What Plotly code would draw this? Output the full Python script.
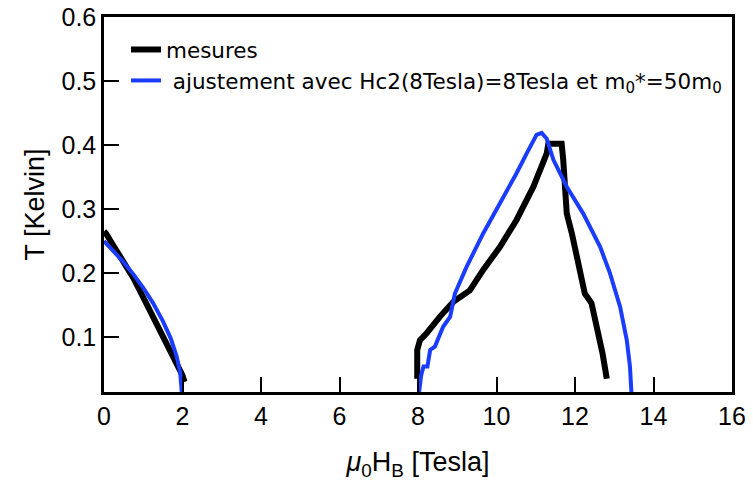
import plotly.graph_objects as go

# ---- data ----
black_left_x = [0, 0.05, 0.25, 0.48, 0.75, 1.0, 1.25, 1.5, 1.76, 1.92, 2.0, 2.05]
black_left_T = [0.265, 0.262, 0.242, 0.220, 0.192, 0.162, 0.131, 0.102, 0.072, 0.05, 0.04, 0.03]

black_right_x = [7.98, 7.98, 8.05, 8.22, 8.56, 8.90, 9.32, 9.66, 10.09, 10.51, 10.94, 11.28,
                 11.32, 11.66, 11.70, 11.76, 11.79, 11.92, 12.04, 12.17, 12.25, 12.42, 12.55,
                 12.64, 12.70, 12.81]
black_right_T = [0.035, 0.08, 0.095, 0.106, 0.132, 0.155, 0.173, 0.205, 0.241, 0.283, 0.335, 0.387,
                 0.402, 0.402, 0.377, 0.335, 0.293, 0.262, 0.225, 0.194, 0.168, 0.153, 0.116,
                 0.100, 0.075, 0.035]

blue_left_x = [0, 0.25, 0.5, 0.75, 1.0, 1.25, 1.5, 1.7, 1.85, 1.94, 1.99, 2.0]
blue_left_T = [0.25, 0.234, 0.217, 0.198, 0.177, 0.153, 0.125, 0.098, 0.07, 0.045, 0.02, 0.0]

blue_right_x = [8.0, 8.08, 8.14, 8.24, 8.31, 8.43, 8.64, 8.82, 8.94, 9.24, 9.66, 10.09, 10.51,
                10.77, 11.02, 11.15, 11.28, 11.45, 11.79, 12.21, 12.64, 12.89, 13.15, 13.32,
                13.40, 13.45]
blue_right_T = [0.0, 0.04, 0.054, 0.054, 0.080, 0.085, 0.116, 0.132, 0.168, 0.210, 0.262, 0.309,
                0.356, 0.387, 0.416, 0.419, 0.410, 0.377, 0.335, 0.293, 0.241, 0.20, 0.147, 0.095,
                0.054, 0.0]

x_ticks = [0, 2, 4, 6, 8, 10, 12, 14, 16]
y_ticks = [0.1, 0.2, 0.3, 0.4, 0.5, 0.6]
y_ticklabels = ["0.1", "0.2", "0.3", "0.4", "0.5", "0.6"]

name_black = "mesures"
name_blue = "\u00a0ajustement avec Hc2(8Tesla)=8Tesla et m<sub>0</sub>*=50m<sub>0</sub>"

FONT = "Liberation Sans, Arial, sans-serif"
LEGEND_FONT = "DejaVu Sans, sans-serif"

fig = go.Figure()
fig.add_trace(go.Scatter(
    x=black_left_x + [None] + black_right_x,
    y=black_left_T + [None] + black_right_T,
    mode="lines", name=name_black,
    line=dict(color="black", width=6),
    connectgaps=False,
))
fig.add_trace(go.Scatter(
    x=blue_left_x + [None] + blue_right_x,
    y=blue_left_T + [None] + blue_right_T,
    mode="lines", name=name_blue,
    line=dict(color="#1a3cff", width=4),
    connectgaps=False,
))

# page body adds an 8px margin: figure is 16px smaller and margins 8px smaller
fig.update_layout(
    width=737, height=473, autosize=False,
    margin=dict(l=96, r=13, t=9, b=89),
    paper_bgcolor="white", plot_bgcolor="white",
    font=dict(family=FONT, color="black"),
    showlegend=True,
    legend=dict(
        x=0.035, y=0.968, xanchor="left", yanchor="top",
        bgcolor="rgba(0,0,0,0)", font=dict(size=21.5, family=LEGEND_FONT),
        tracegroupgap=0, itemwidth=30,
    ),
    xaxis=dict(
        range=[0, 16], tickvals=x_ticks, automargin=False, ticklabeloverflow="allow",
        ticks="inside", ticklen=15, tickwidth=1.5, tickcolor="black",
        showline=True, linewidth=2.5, linecolor="black", mirror=True,
        showgrid=False, zeroline=False,
        tickfont=dict(size=25, family=FONT),
        title=dict(text="<i>μ</i><sub>0</sub>H<sub>B</sub> [Tesla]", font=dict(size=27, family=FONT), standoff=24),
    ),
    yaxis=dict(
        range=[0.0141, 0.6003], tickvals=y_ticks, ticktext=y_ticklabels,
        automargin=False, ticklabeloverflow="allow",
        ticks="inside", ticklen=15, tickwidth=1.5, tickcolor="black",
        showline=True, linewidth=2.5, linecolor="black", mirror=True,
        showgrid=False, zeroline=False,
        tickfont=dict(size=25, family=FONT),
        title=dict(text="T [Kelvin]", font=dict(size=27, family=FONT), standoff=10),
    ),
)

fig.write_html("out.html")
